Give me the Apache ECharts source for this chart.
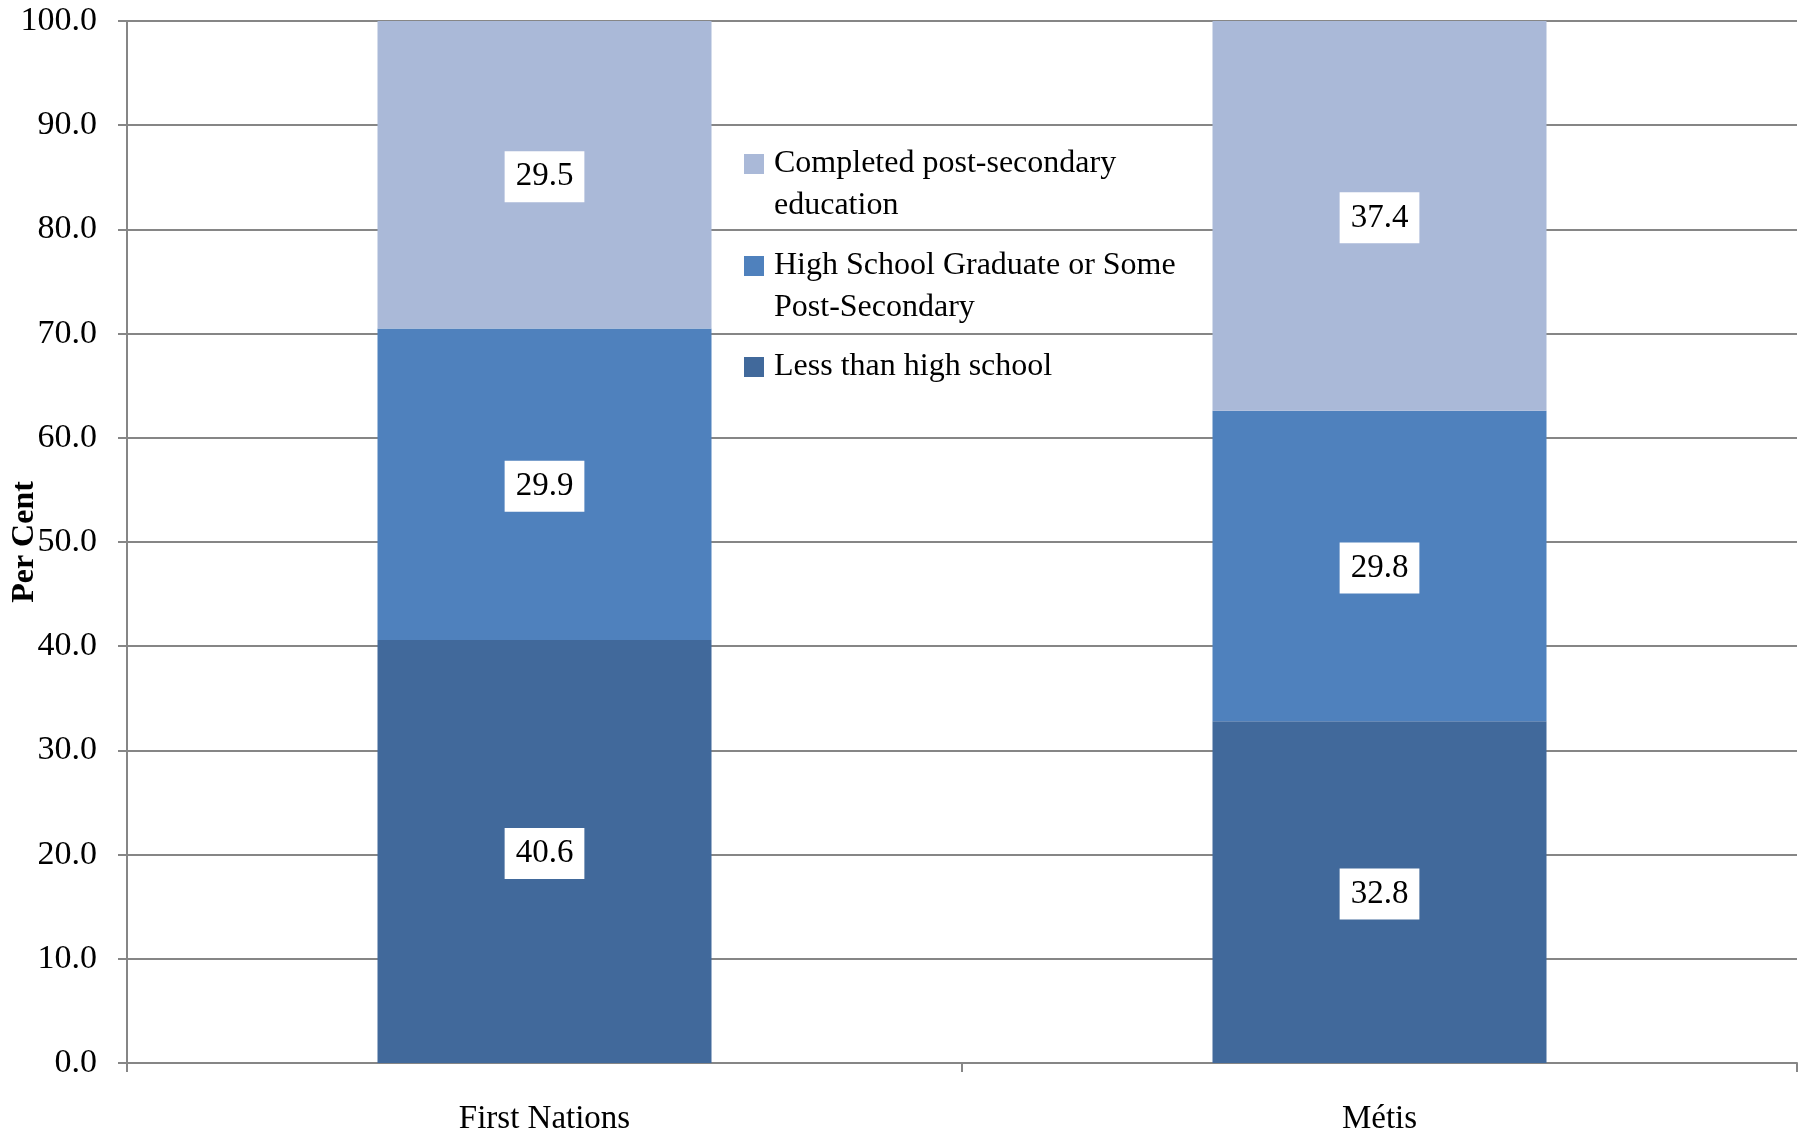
<!DOCTYPE html>
<html>
<head>
<meta charset="utf-8">
<script src="https://cdn.jsdelivr.net/npm/echarts@6/dist/echarts.min.js"></script>
<style>
html,body{margin:0;padding:0;background:#fff;}
#chart{width:1806px;height:1131px;}
</style>
</head>
<body>
<div id="chart"></div>
<script>
const categories = ['First Nations', 'Métis'];
const seriesNames = ['Less than high school', 'High School Graduate or Some Post-Secondary', 'Completed post-secondary education'];
const lessThanHighSchool = [40.6, 32.8];
const highSchoolOrSome = [29.9, 29.8];
const completedPostSecondary = [29.5, 37.4];
const yTicks = {min: 0, max: 100, interval: 10};
const yAxisTitle = 'Per Cent';

const FONT = '"Liberation Serif", "Times New Roman", serif';
const colors = ['#41699B', '#4F81BD', '#AAB9D8'];
const legendText = {
  'Completed post-secondary education': 'Completed post-secondary\neducation',
  'High School Graduate or Some Post-Secondary': 'High School Graduate or Some\nPost-Secondary',
  'Less than high school': 'Less than high school'
};

const labelCfg = {
  show: true,
  position: 'inside',
  offset: [0, 2],
  formatter: p => p.value.toFixed(1),
  color: '#000',
  fontFamily: FONT,
  fontSize: 33,
  backgroundColor: '#fff',
  padding: [10, 11, 8, 11]
};

function mkSeries(name, data, color) {
  return {
    name: name, type: 'bar', stack: 'total', data: data,
    barWidth: '40%',
    itemStyle: {color: color},
    label: labelCfg,
    emphasis: {disabled: true}
  };
}

const topSquareIcon = 'path://M0,0 M0,11 L20,11 L20,31 L0,31 Z M0,84';

function mkLegend(name, top, twoLine) {
  return {
    show: true,
    left: 744,
    top: top,
    orient: 'vertical',
    data: [{name: name, icon: twoLine ? topSquareIcon : 'rect'}],
    itemWidth: 20,
    itemHeight: twoLine ? 84 : 20,
    padding: 0,
    selectedMode: false,
    formatter: n => legendText[n],
    textStyle: {
      fontFamily: FONT, fontSize: 32, color: '#000', lineHeight: 42,
      padding: [0, 0, 0, 5]
    }
  };
}

const chart = echarts.init(document.getElementById('chart'), null, {renderer: 'canvas'});
chart.setOption({
  animation: false,
  backgroundColor: '#fff',
  grid: {left: 127, right: 9, top: 21, bottom: 68, containLabel: false, outerBoundsMode: 'none'},
  legend: [
    mkLegend(seriesNames[2], 143, true),
    mkLegend(seriesNames[1], 245, true),
    mkLegend(seriesNames[0], 346, false)
  ],
  xAxis: {
    type: 'category',
    data: categories,
    boundaryGap: true,
    axisLine: {show: true, lineStyle: {color: '#868686', width: 2}},
    axisTick: {show: true, alignWithLabel: false, length: 9, lineStyle: {color: '#868686', width: 2}},
    axisLabel: {color: '#000', fontFamily: FONT, fontSize: 33, margin: 40}
  },
  yAxis: {
    type: 'value',
    min: yTicks.min, max: yTicks.max, interval: yTicks.interval,
    name: yAxisTitle,
    nameLocation: 'middle',
    nameGap: 86,
    nameMoveOverlap: false,
    nameTextStyle: {color: '#000', fontFamily: FONT, fontSize: 32, fontWeight: 'bold'},
    axisLine: {show: true, lineStyle: {color: '#868686', width: 2}},
    axisTick: {show: true, length: 9, lineStyle: {color: '#868686', width: 2}},
    axisLabel: {color: '#000', fontFamily: FONT, fontSize: 34, margin: 30, formatter: v => v.toFixed(1)},
    splitLine: {show: true, lineStyle: {color: '#868686', width: 2}}
  },
  series: [
    mkSeries(seriesNames[0], lessThanHighSchool, colors[0]),
    mkSeries(seriesNames[1], highSchoolOrSome, colors[1]),
    mkSeries(seriesNames[2], completedPostSecondary, colors[2])
  ]
});
</script>
</body>
</html>
